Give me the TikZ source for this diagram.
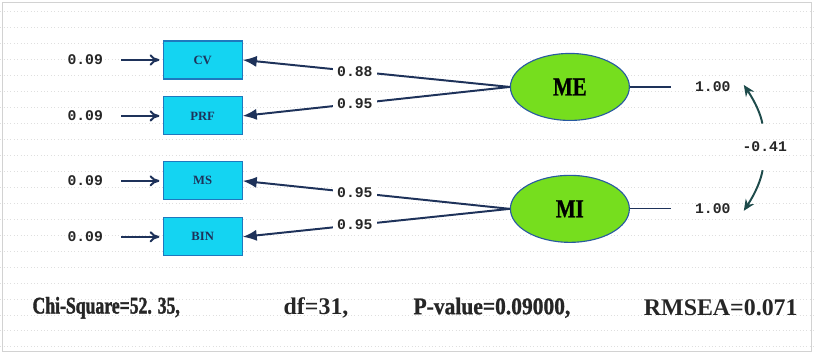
\documentclass[tikz,border=0pt]{standalone}
\usepackage{fontspec}
\setmainfont{Liberation Serif}
\newfontfamily\numfont{Liberation Mono}
\newfontfamily\condfont[FakeStretch=0.8,FakeBold=1]{Liberation Serif Bold}
\newfontfamily\narrowfont[FakeStretch=0.74,FakeBold=1.5]{Liberation Serif Bold}
\newfontfamily\midfont[FakeStretch=0.9,FakeBold=1]{Liberation Serif Bold}
\usetikzlibrary{shapes.geometric,arrows.meta}

\definecolor{boxcyan}{RGB}{20,212,242}
\definecolor{boxline}{RGB}{30,120,190}
\definecolor{latgreen}{RGB}{118,222,30}
\definecolor{latline}{RGB}{40,90,160}
\definecolor{navy}{RGB}{30,50,90}
\definecolor{covteal}{RGB}{30,75,75}

\begin{document}
\begin{tikzpicture}[x=0.025cm,y=-0.025cm]
\tikzset{ >=latex,
  obs/.style={draw=boxline, fill=boxcyan, line width=0.8pt, minimum width=1.975cm,
              minimum height=0.95cm, inner sep=0pt, text=navy,
              font=\fontsize{9}{10}\selectfont\bfseries},
  lat/.style={ellipse, draw=latline, fill=latgreen, line width=0.8pt, minimum width=2.975cm,
              minimum height=1.675cm, inner sep=0pt,
              font=\condfont\fontsize{18.5}{20}\selectfont},
  num/.style={font=\numfont\fontsize{10.5}{12}\selectfont\bfseries, text=black!85, inner sep=3pt},
  fit/.style={font=\fontsize{17}{20}\selectfont\bfseries, text=black!85},
  err/.style={-{To[length=7pt,width=8pt]}, navy, line width=1.4pt, shorten <=0.35cm, shorten >=0.08cm},
  load/.style={-{Latex[length=10pt,width=8pt]}, navy, line width=1.4pt},
  vline/.style={navy, line width=0.8pt, shorten >=0.5cm},
  cov/.style={-{Stealth[length=8pt,width=7pt]}, covteal, line width=1.4pt, shorten <=0.35cm},
}

%%% fundo
\fill[white] (0,0) rectangle (814,354);
\foreach \yy in {11,27,...,350} {
  \draw[gray!25, dotted] (0,\yy) -- (814,\yy);
}
\draw[gray!35] (2,2) rectangle (812,352);

%%% variaveis observadas
\node[obs] (CV)  at (202.5,60)  {CV};
\node[obs] (PRF) at (202.5,116) {PRF};
\node[obs] (MS)  at (202.5,181) {MS};
\node[obs] (BIN) at (202.5,237) {BIN};

%%% erros
\node[num] (eCV)  at (85,60)  {0.09};
\node[num] (ePRF) at (85,116) {0.09};
\node[num] (eMS)  at (85,181) {0.09};
\node[num] (eBIN) at (85,237) {0.09};

\draw[err] (eCV)  -- (CV);
\draw[err] (ePRF) -- (PRF);
\draw[err] (eMS)  -- (MS);
\draw[err] (eBIN) -- (BIN);

%%% latentes
\node[lat] (ME) at (570,87)  {ME};
\node[lat] (MI) at (570,209) {MI};

% cargas
\draw[load] (ME.west) -- node[num, pos=0.58, fill=white] {0.88} (CV.east);
\draw[load] (ME.west) -- node[num, pos=0.58, fill=white] {0.95} (PRF.east);
\draw[load] (MI.west) -- node[num, pos=0.58, fill=white] {0.95} (MS.east);
\draw[load] (MI.west) -- node[num, pos=0.58, fill=white] {0.95} (BIN.east);

% variancias
\node[num] (vME) at (713,87)  {1.00};
\node[num] (vMI) at (713,209) {1.00};
\draw[vline] (ME.east) -- (vME.west);
\draw[vline] (MI.east) -- (vMI.west);

% covariancia
\node[num] (covMEMI) at (765,147) {-0.41};
\draw[cov] (covMEMI.north) to[bend right=12] ([xshift=0.22cm,yshift=0.05cm]vME.east);
\draw[cov] (covMEMI.south) to[bend left=12] ([xshift=0.22cm,yshift=-0.05cm]vMI.east);

%%% indices de ajuste
\node[fit, font=\narrowfont\fontsize{17}{20}\selectfont] (chi) at (106,308) {Chi-Square=52. 35,};
\node[fit] (df)    at (316,308) {df=31,};
\node[fit, font=\midfont\fontsize{17}{20}\selectfont] (pval) at (492,308) {P-value=0.09000,};
\node[fit] (rmsea) at (721,308) {RMSEA=0.071};

\end{tikzpicture}
\end{document}
